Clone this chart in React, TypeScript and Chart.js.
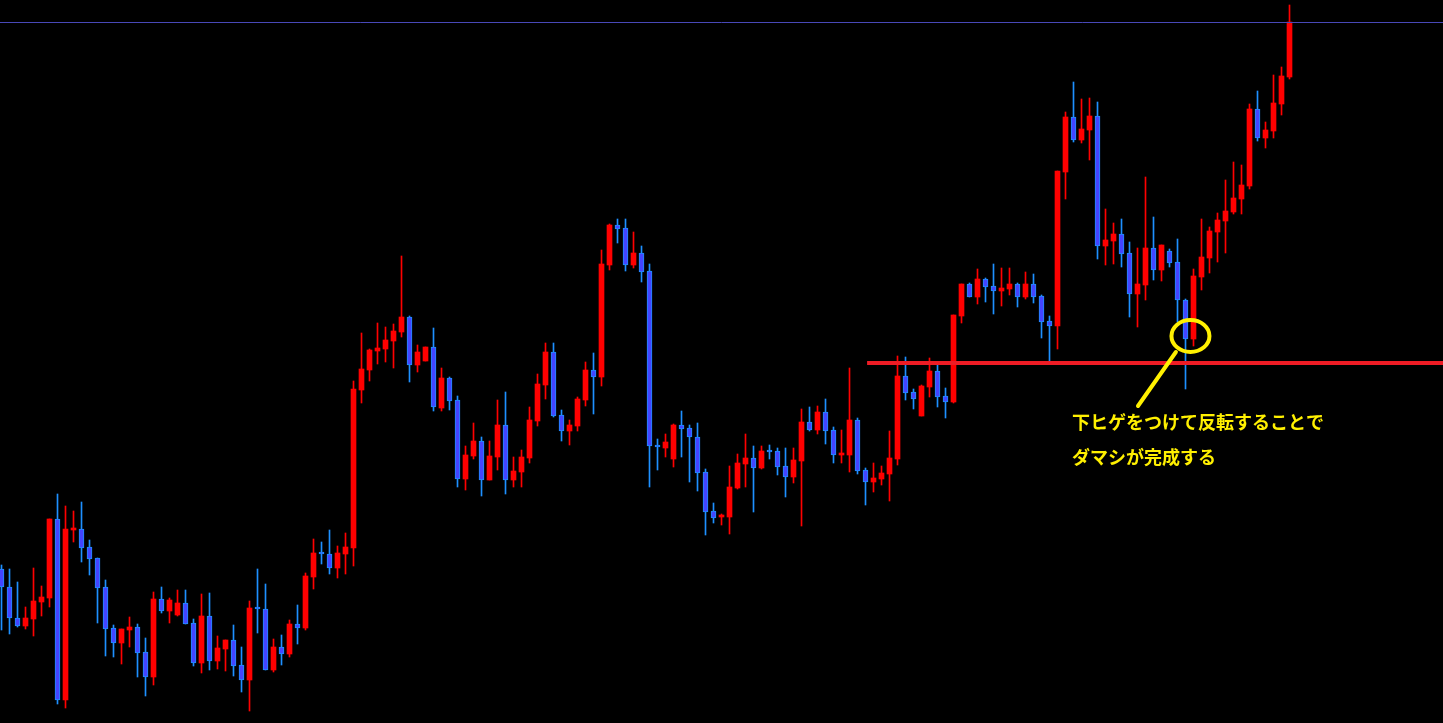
import React, { useEffect, useRef } from "react";
import { Chart, registerables } from "chart.js";

Chart.register(...registerables);

// OHLC values (price points), one entry per candle, oldest first
const opens = [
  154, 136, 105, 97, 104, 121, 125, 204, 23, 193, 194, 176, 165, 136, 95, 80, 93, 96, 71, 46,
  124, 112, 108, 120, 100, 60, 107, 62, 74, 83, 58, 43, 115, 114, 53, 76, 69, 99, 95, 146,
  170, 169, 155, 169, 175, 333, 353, 372, 374, 382, 391, 406, 358, 362, 376, 315, 345, 323, 244, 267,
  282, 243, 266, 298, 243, 251, 265, 302, 338, 371, 308, 292, 297, 323, 353, 346, 458, 498, 495, 458,
  470, 452, 278, 275, 264, 298, 295, 286, 251, 212, 206, 206, 235, 259, 265, 255, 272, 272, 257, 246,
  262, 301, 293, 311, 293, 268, 268, 303, 253, 241, 244, 249, 264, 347, 331, 307, 336, 352, 327, 321,
  407, 439, 426, 444, 437, 432, 434, 439, 426, 439, 427, 402, 397, 551, 606, 583, 593, 607, 477, 482,
  489, 470, 429, 438, 475, 453, 472, 461, 423, 384, 446, 465, 491, 502, 511, 524, 537, 614, 585, 592,
  619, 646,
];
const highs = [
  158, 154, 141, 116, 155, 137, 204, 229, 217, 212, 221, 183, 165, 143, 98, 94, 106, 99, 85, 131,
  136, 125, 133, 133, 104, 129, 130, 87, 83, 98, 76, 122, 154, 139, 84, 88, 103, 118, 150, 184,
  181, 193, 177, 190, 342, 390, 374, 400, 396, 399, 467, 407, 378, 376, 395, 355, 346, 327, 277, 300,
  286, 282, 323, 331, 266, 273, 316, 349, 380, 380, 313, 303, 326, 361, 370, 473, 499, 504, 504, 491,
  477, 459, 284, 289, 299, 312, 298, 300, 254, 220, 209, 257, 269, 289, 277, 277, 278, 275, 275, 275,
  314, 316, 317, 324, 296, 293, 355, 305, 255, 260, 257, 292, 367, 366, 334, 338, 365, 358, 335, 408,
  439, 440, 454, 445, 459, 455, 455, 440, 451, 449, 428, 407, 552, 611, 641, 624, 625, 621, 514, 500,
  504, 481, 475, 546, 506, 478, 474, 484, 424, 454, 504, 496, 510, 543, 561, 558, 619, 632, 601, 648,
  656, 718,
];
const lows = [
  93, 89, 96, 94, 87, 107, 116, 19, 15, 181, 161, 148, 100, 67, 66, 59, 76, 46, 27, 38,
  110, 100, 107, 99, 57, 50, 53, 54, 52, 47, 31, 12, 90, 53, 51, 58, 66, 79, 93, 134,
  159, 149, 145, 149, 157, 320, 342, 359, 361, 355, 386, 341, 351, 362, 312, 312, 313, 236, 233, 264,
  227, 243, 253, 229, 236, 236, 260, 297, 324, 306, 282, 278, 292, 317, 309, 337, 453, 480, 452, 455,
  441, 236, 253, 266, 256, 266, 241, 232, 188, 200, 198, 189, 234, 236, 211, 254, 264, 248, 226, 240,
  197, 292, 289, 279, 260, 260, 251, 249, 218, 231, 238, 222, 258, 323, 314, 307, 326, 316, 305, 320,
  400, 426, 419, 421, 409, 417, 428, 416, 424, 420, 385, 362, 374, 524, 581, 580, 563, 464, 458, 459,
  456, 406, 396, 423, 443, 442, 456, 401, 334, 377, 433, 450, 461, 470, 509, 509, 534, 582, 575, 585,
  608, 644,
];
const closes = [
  136, 105, 97, 105, 122, 126, 204, 23, 194, 194, 175, 164, 135, 94, 80, 94, 96, 70, 46, 124,
  112, 123, 120, 99, 60, 107, 62, 75, 83, 57, 43, 115, 114, 53, 76, 69, 99, 95, 147, 170,
  169, 155, 170, 176, 334, 354, 373, 375, 383, 392, 406, 358, 371, 376, 316, 345, 322, 244, 268, 282,
  243, 267, 298, 243, 252, 266, 303, 339, 371, 307, 292, 298, 324, 353, 346, 459, 498, 494, 458, 470,
  451, 277, 276, 281, 298, 294, 286, 250, 211, 205, 207, 236, 260, 265, 255, 272, 271, 256, 246, 263,
  301, 293, 311, 292, 268, 269, 303, 252, 241, 245, 250, 265, 347, 330, 324, 337, 352, 326, 321, 408,
  439, 426, 444, 436, 432, 435, 439, 426, 439, 426, 401, 397, 552, 606, 583, 594, 607, 477, 483, 489,
  469, 429, 439, 475, 453, 478, 460, 423, 384, 447, 466, 492, 503, 512, 525, 538, 614, 585, 593, 620,
  647, 701,
];

// reference levels
const currentPriceLevel = 701;
const supportLevel = 360;
const supportStartIndex = 108.2;

// annotation texts
const noteLine1 = "下ヒゲをつけて反転することで";
const noteLine2 = "ダマシが完成する";

const UP_COLOR = "#ff0000";
const DOWN_FILL = "#4444ff";
const DOWN_EDGE = "#1e90ff";
const NOTE_COLOR = "#fff000";

export default function App() {
  const ref = useRef<HTMLCanvasElement | null>(null);

  useEffect(() => {
    document.body.style.margin = "0";
    document.body.style.background = "#000";
    const canvas = ref.current;
    if (!canvas) return;

    const n = opens.length;
    const idx = Array.from({ length: n }, (_, i) => i);
    const isUp = idx.map((i) => closes[i] >= opens[i]);

    const overlay = {
      id: "overlay",
      afterDatasetsDraw(chart: any) {
        const { ctx, scales, chartArea } = chart;
        const xs = scales.x;
        const ys = scales.y;
        ctx.save();
        // current price line
        const yc = Math.round(ys.getPixelForValue(currentPriceLevel)) + 0.5;
        ctx.strokeStyle = "#4848b8";
        ctx.lineWidth = 1;
        ctx.beginPath();
        ctx.moveTo(chartArea.left, yc);
        ctx.lineTo(chartArea.right, yc);
        ctx.stroke();

        // support line
        const ys1 = ys.getPixelForValue(supportLevel);
        ctx.strokeStyle = "#ee1c25";
        ctx.lineWidth = 4;
        ctx.beginPath();
        ctx.moveTo(xs.getPixelForValue(supportStartIndex), ys1);
        ctx.lineTo(chartArea.right, ys1);
        ctx.stroke();

        // yellow circle around the lower wick
        ctx.strokeStyle = NOTE_COLOR;
        ctx.lineWidth = 4;
        ctx.beginPath();
        ctx.ellipse(xs.getPixelForValue(148.62), ys.getPixelForValue(387), 19, 16, 0, 0, Math.PI * 2);
        ctx.stroke();

        // pointer line
        ctx.beginPath();
        ctx.lineCap = "round";
        ctx.moveTo(xs.getPixelForValue(146.8), ys.getPixelForValue(371));
        ctx.lineTo(xs.getPixelForValue(142.06), ys.getPixelForValue(317));
        ctx.stroke();

        // note text
        ctx.fillStyle = NOTE_COLOR;
        ctx.font = 'bold 18px "Noto Sans CJK JP"';
        ctx.textBaseline = "middle";
        ctx.textAlign = "left";
        const tx = xs.getPixelForValue(133.8);
        ctx.fillText(noteLine1, tx, ys.getPixelForValue(300.5));
        ctx.fillText(noteLine2, tx, ys.getPixelForValue(265.5));
        ctx.restore();
      },
    };

    const chart = new Chart(canvas, {
      type: "bar",
      data: {
        datasets: [
          {
            label: "body",
            data: idx.map((i) => ({ x: i, y: [opens[i], closes[i]] })) as any,
            backgroundColor: idx.map((i) => (isUp[i] ? UP_COLOR : DOWN_FILL)),
            borderColor: idx.map((i) => (isUp[i] ? UP_COLOR : DOWN_EDGE)),
            borderWidth: idx.map((i) => (isUp[i] ? 0 : 1)),
            borderSkipped: false,
            barThickness: 5,
            minBarLength: 2,
            grouped: false,
            order: 1,
          } as any,
          {
            label: "wick",
            data: idx.map((i) => ({ x: i, y: [lows[i], highs[i]] })) as any,
            backgroundColor: idx.map((i) => (isUp[i] ? UP_COLOR : DOWN_EDGE)),
            borderWidth: 0,
            barThickness: 1,
            grouped: false,
            order: 2,
          } as any,
        ],
      },
      options: {
        responsive: false,
        animation: false,
        devicePixelRatio: 1,
        layout: { padding: 0 },
        plugins: { legend: { display: false }, tooltip: { enabled: false } },
        scales: {
          x: { type: "linear", min: -0.1875, max: 180.1875, display: false, offset: false },
          y: { type: "linear", min: 0, max: 723, display: false },
        },
      },
      plugins: [overlay],
    });

    return () => chart.destroy();
  }, []);

  return (
    <div style={{ width: 1443, height: 723, background: "#000" }}>
      <canvas ref={ref} width={1443} height={723} style={{ display: "block" }} />
    </div>
  );
}
